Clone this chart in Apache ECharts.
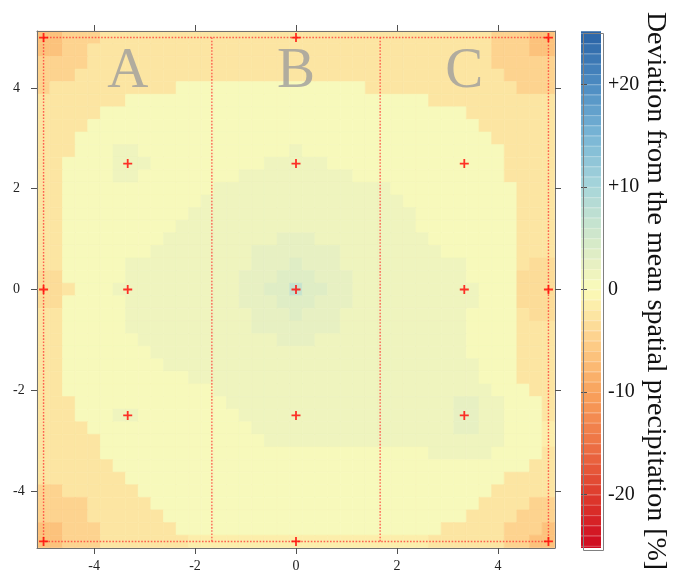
<!DOCTYPE html>
<html><head><meta charset="utf-8">
<script src="https://cdn.jsdelivr.net/npm/echarts@6/dist/echarts.min.js"></script>
<style>html,body{margin:0;padding:0;background:#fff}#c{width:674px;height:573px}</style>
</head><body><div id="c"></div>
<script>
// ---- data ----
const gridX = [-5,-4.75,-4.5,-4.25,-4,-3.75,-3.5,-3.25,-3,-2.75,-2.5,-2.25,-2,-1.75,-1.5,-1.25,-1,-0.75,-0.5,-0.25,0,
               0.25,0.5,0.75,1,1.25,1.5,1.75,2,2.25,2.5,2.75,3,3.25,3.5,3.75,4,4.25,4.5,4.75,5];
const gridY = [5,4.75,4.5,4.25,4,3.75,3.5,3.25,3,2.75,2.5,2.25,2,1.75,1.5,1.25,1,0.75,0.5,0.25,0,
               -0.25,-0.5,-0.75,-1,-1.25,-1.5,-1.75,-2,-2.25,-2.5,-2.75,-3,-3.25,-3.5,-3.75,-4,-4.25,-4.5,-4.75,-5];
// deviation [%] per grid row (top to bottom), written as runs [number of cells, value] along gridX
const fieldRuns = [
 [[2,-6.5],[3,-4.5],[31,-2.5],[3,-4.5],[2,-6.5]],
 [[2,-6.5],[2,-4.5],[32,-2.5],[3,-4.5],[2,-6.5]],
 [[4,-4.5],[32,-2.5],[5,-4.5]],
 [[3,-4.5],[34,-2.5],[4,-4.5]],
 [[1,-4.5],[10,-2.5],[15,0.5],[12,-2.5],[3,-4.5]],
 [[7,-2.5],[24,0.5],[10,-2.5]],
 [[5,-2.5],[29,0.5],[7,-2.5]],
 [[4,-2.5],[31,0.5],[6,-2.5]],
 [[3,-2.5],[33,0.5],[5,-2.5]],
 [[3,-2.5],[3,0.5],[2,1.5],[12,0.5],[1,1.5],[16,0.5],[4,-2.5]],
 [[2,-2.5],[4,0.5],[3,1.5],[9,0.5],[5,1.5],[14,0.5],[4,-2.5]],
 [[2,-2.5],[4,0.5],[2,1.5],[8,0.5],[9,1.5],[12,0.5],[4,-2.5]],
 [[2,-2.5],[12,0.5],[14,1.5],[10,0.5],[3,-2.5]],
 [[2,-2.5],[11,0.5],[16,1.5],[9,0.5],[3,-2.5]],
 [[2,-2.5],[10,0.5],[18,1.5],[8,0.5],[3,-2.5]],
 [[2,-2.5],[9,0.5],[19,1.5],[8,0.5],[3,-2.5]],
 [[2,-2.5],[8,0.5],[9,1.5],[3,2.5],[9,1.5],[7,0.5],[3,-2.5]],
 [[2,-2.5],[7,0.5],[8,1.5],[7,2.5],[8,1.5],[6,0.5],[3,-2.5]],
 [[2,-2.5],[5,0.5],[10,1.5],[3,2.5],[1,3.5],[3,2.5],[10,1.5],[4,0.5],[1,-2.5],[2,-4]],
 [[2,-4],[5,0.5],[9,1.5],[3,2.5],[3,3.5],[3,2.5],[9,1.5],[4,0.5],[3,-4]],
 [[2,-4],[1,-2.5],[3,0.5],[10,1.5],[2,2.5],[2,3.5],[1,6],[2,3.5],[2,2.5],[10,1.5],[3,0.5],[3,-4]],
 [[2,-4],[5,0.5],[9,1.5],[3,2.5],[3,3.5],[3,2.5],[10,1.5],[3,0.5],[3,-4]],
 [[2,-2.5],[5,0.5],[10,1.5],[3,2.5],[1,3.5],[3,2.5],[10,1.5],[4,0.5],[1,-2.5],[2,-4]],
 [[2,-2.5],[5,0.5],[10,1.5],[7,2.5],[10,1.5],[4,0.5],[3,-2.5]],
 [[2,-2.5],[6,0.5],[11,1.5],[3,2.5],[12,1.5],[4,0.5],[3,-2.5]],
 [[2,-2.5],[7,0.5],[25,1.5],[4,0.5],[3,-2.5]],
 [[2,-2.5],[8,0.5],[25,1.5],[3,0.5],[3,-2.5]],
 [[2,-2.5],[10,0.5],[23,1.5],[3,0.5],[3,-2.5]],
 [[2,-2.5],[12,0.5],[22,1.5],[3,0.5],[2,-2.5]],
 [[3,-2.5],[12,0.5],[18,1.5],[2,2.5],[2,1.5],[3,0.5],[1,-2.5]],
 [[3,-2.5],[3,0.5],[2,1.5],[8,0.5],[17,1.5],[2,2.5],[2,1.5],[3,0.5],[1,-2.5]],
 [[4,-2.5],[13,0.5],[16,1.5],[2,2.5],[2,1.5],[3,0.5],[1,-1.5]],
 [[5,-2.5],[13,0.5],[19,1.5],[3,0.5],[1,-1.5]],
 [[5,-2.5],[26,0.5],[5,1.5],[4,0.5],[1,-2.5]],
 [[6,-2.5],[33,0.5],[2,-2.5]],
 [[7,-2.5],[30,0.5],[4,-2.5]],
 [[2,-4.5],[6,-2.5],[28,0.5],[5,-2.5]],
 [[4,-4.5],[5,-2.5],[26,0.5],[4,-2.5],[2,-4.5]],
 [[4,-4.5],[6,-2.5],[24,0.5],[4,-2.5],[3,-4.5]],
 [[2,-6.5],[3,-4.5],[6,-2.5],[21,0.5],[5,-2.5],[3,-4.5],[1,-6.5]],
 [[2,-6.5],[3,-4.5],[7,-2.5],[19,-1.5],[6,-2.5],[2,-4.5],[2,-6.5]]
];
// rain-gauge stations
const stationX = [-5,0,5,-10/3,0,10/3,-5,-10/3,0,10/3,5,-10/3,0,10/3,-5,0,5];
const stationY = [5,5,5,2.5,2.5,2.5,0,0,0,0,0,-2.5,-2.5,-2.5,-5,-5,-5];
// zone labels
const zoneNames = ['A','B','C'];
const zoneX = [-10/3,0,10/3];
const zoneY = [4.31,4.31,4.31];
// dotted outlines
const boxX = [-5,5,5,-5,-5];
const boxY = [5,5,-5,-5,5];
const dividerX = [-5/3,5/3];
const dividerY = [-5,5];
// axis ticks and key
const axisTicks = [-4,-2,0,2,4];
const keyTicks = [-20,-10,0,10,20];
const keyLevels = [-26,-25,-24,-23,-22,-21,-20,-19,-18,-17,-16,-15,-14,-13,-12,-11,-10,-9,-8,-7,-6,-5,-4,-3,-2,-1,0,1,2,3,4,5,6,7,8,9,10,11,12,13,14,15,16,17,18,19,20,21,22,23,24,25];
const keyTitle = 'Deviation from the mean spatial precipitation [%]';

// ---- colour ramp ----
const rampStops = [-25,-20,-15,-10,-5,0,2,5,10,15,20,25];
const rampColors = ['#CE0A20','#DD3A2C','#EE7345','#F9A35C','#FDCF8A','#FBFBB9','#EBF2C0','#D2E8CA','#A8D6DA','#79B6D6','#4D8CC2','#2A64A6'];
function hex2rgb(h){return [parseInt(h.slice(1,3),16),parseInt(h.slice(3,5),16),parseInt(h.slice(5,7),16)];}
function rampColor(v){
  if (v<=rampStops[0]) return rampColors[0];
  if (v>=rampStops[rampStops.length-1]) return rampColors[rampColors.length-1];
  for (let i=0;i<rampStops.length-1;i++){
    if (v>=rampStops[i] && v<=rampStops[i+1]){
      const t=(v-rampStops[i])/(rampStops[i+1]-rampStops[i]);
      const a=hex2rgb(rampColors[i]), b=hex2rgb(rampColors[i+1]);
      return 'rgb('+a.map((c,k)=>Math.round(c+(b[k]-c)*t)).join(',')+')';
    }
  }
}
function binColor(v){return rampColor(Math.floor(v)+0.5);}

const cells = [];
fieldRuns.forEach((runs,j)=>{
  let i=0;
  runs.forEach(([n,v])=>{ for(let k=0;k<n;k++){ cells.push([gridX[i],gridY[j],v]); i++; } });
});
const half = (gridX[1]-gridX[0])/2;

const serif = 'Liberation Serif';
const chart = echarts.init(document.getElementById('c'));
const axCommon = {
  type:'value', min:-5.13, max:5.13, z:5,
  splitLine:{show:false},
  axisLine:{show:true, onZero:false, lineStyle:{color:'#707070', width:1}},
  axisTick:{show:true, inside:false, length:6, customValues:axisTicks, lineStyle:{color:'#505050', width:1}},
};
const dotted = {color:'rgba(255,50,50,0.75)', width:1.4, type:[1.6,1.6]};
chart.setOption({
  animation:false,
  backgroundColor:'#ffffff',
  grid:[
    {left:37, top:31, width:518, height:517},
    {left:581, top:31, width:20, height:517}
  ],
  xAxis:[
    Object.assign({}, axCommon, {gridIndex:0, position:'bottom',
      axisLabel:{show:true, customValues:axisTicks, margin:11, color:'#222', fontFamily:serif, fontSize:14}}),
    Object.assign({}, axCommon, {gridIndex:0, position:'top', axisLabel:{show:false}}),
    {type:'value', gridIndex:1, min:0, max:1, show:false}
  ],
  yAxis:[
    Object.assign({}, axCommon, {gridIndex:0, position:'left',
      axisLabel:{show:true, customValues:axisTicks, margin:24, align:'left', color:'#222', fontFamily:serif, fontSize:14}}),
    Object.assign({}, axCommon, {gridIndex:0, position:'right', axisLabel:{show:false}}),
    {type:'value', gridIndex:1, position:'right', min:-25.2, max:25.2, z:5,
      splitLine:{show:false},
      axisLine:{show:false},
      axisTick:{show:true, length:6, customValues:keyTicks, lineStyle:{color:'#505050'}},
      axisLabel:{show:true, customValues:keyTicks, margin:7, color:'#111', fontFamily:serif, fontSize:20,
        formatter:v=> v>0 ? '+'+v : String(v)}}
  ],
  series:[
    {
      type:'custom', xAxisIndex:0, yAxisIndex:0, z:1, silent:true,
      data:cells,
      renderItem:(params,api)=>{
        const x=api.value(0), y=api.value(1), v=api.value(2);
        const p0=api.coord([x-half,y+half]), p1=api.coord([x+half,y-half]);
        const cs=params.coordSys;
        const r=echarts.graphic.clipRectByRect({x:p0[0],y:p0[1],width:p1[0]-p0[0],height:p1[1]-p0[1]},
          {x:cs.x,y:cs.y,width:cs.width,height:cs.height});
        if(!r) return;
        const c=binColor(v);
        return {type:'rect', shape:r, style:{fill:c, stroke:c, lineWidth:0.6}};
      }
    },
    {
      type:'custom', xAxisIndex:2, yAxisIndex:2, z:1, silent:true,
      data:keyLevels.map(k=>[k]),
      renderItem:(params,api)=>{
        const k=api.value(0);
        const p0=api.coord([0,k+1]), p1=api.coord([1,k]);
        const cs=params.coordSys;
        const r=echarts.graphic.clipRectByRect({x:p0[0],y:p0[1],width:p1[0]-p0[0],height:p1[1]-p0[1]},
          {x:cs.x,y:cs.y,width:cs.width,height:cs.height});
        if(!r) return;
        return {type:'group', children:[
          {type:'rect', shape:r, style:{fill:binColor(k+0.5)}},
          {type:'line', shape:{x1:r.x, y1:r.y+0.5, x2:r.x+r.width, y2:r.y+0.5}, style:{stroke:'rgba(255,255,255,0.25)', lineWidth:1}}
        ]};
      }
    },
    {
      type:'line', xAxisIndex:0, yAxisIndex:0, z:4, silent:true, symbol:'none',
      data:boxX.map((x,i)=>[x,boxY[i]]),
      lineStyle:dotted
    },
    ...dividerX.map(dx=>({
      type:'line', xAxisIndex:0, yAxisIndex:0, z:4, silent:true, symbol:'none',
      data:dividerY.map(y=>[dx,y]),
      lineStyle:dotted
    })),
    {
      type:'scatter', xAxisIndex:0, yAxisIndex:0, z:6, silent:true,
      symbol:'path://M4,0H6V4H10V6H6V10H4V6H0V4H4Z', symbolSize:9,
      itemStyle:{color:'#FF0000'},
      data:stationX.map((x,i)=>[x,stationY[i]])
    },
    {
      type:'scatter', xAxisIndex:0, yAxisIndex:0, z:3, silent:true,
      symbolSize:0,
      data:zoneNames.map((n,i)=>({name:n, value:[zoneX[i],zoneY[i]]})),
      label:{show:true, position:'inside', formatter:'{b}', color:'#9E9E9E', fontFamily:serif, fontSize:57, verticalAlign:'middle', align:'center'}
    }
  ],
  graphic:[
    {type:'rect', left:581, top:31, shape:{width:20, height:517}, style:{fill:'none', stroke:'#808080', lineWidth:1}, z:10},
    {type:'text', x:655, y:291, rotation:-Math.PI/2, z:10,
      style:{text:keyTitle, fontFamily:serif, fontSize:28, fill:'#111', align:'center', verticalAlign:'middle'}}
  ]
});
</script>
</body></html>
